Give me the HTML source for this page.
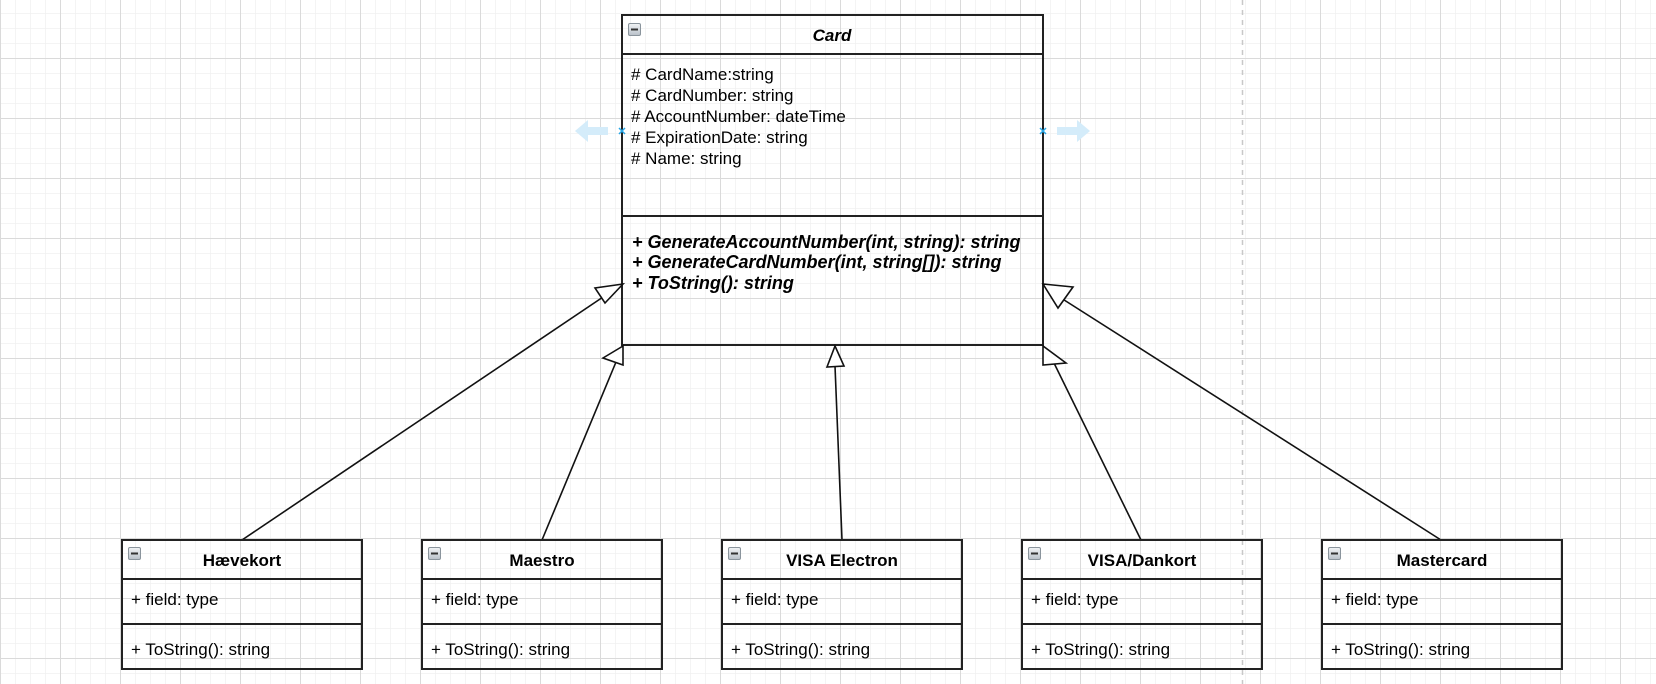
<!DOCTYPE html>
<html><head><meta charset="utf-8"><style>
html,body{margin:0;padding:0;width:1656px;height:684px;overflow:hidden;background:#fff}
svg{display:block}
text{font-family:"Liberation Sans",sans-serif;fill:#000}
</style></head><body>
<svg width="1656" height="684" xmlns="http://www.w3.org/2000/svg">
<defs>
<pattern id="minor" width="15" height="15" patternUnits="userSpaceOnUse" x="0" y="-2">
<path d="M0 0H15M0 0V15" stroke="#f0f0f0" stroke-width="1.5" fill="none"/>
</pattern>
<pattern id="major" width="60" height="60" patternUnits="userSpaceOnUse" x="0" y="-2">
<path d="M0 0.5H60M0.5 0V60" stroke="#dadada" stroke-width="1" fill="none"/>
</pattern>
<linearGradient id="ig" x1="0" y1="0" x2="0" y2="1"><stop offset="0" stop-color="#f2f4f6"/><stop offset="1" stop-color="#b8c0c8"/></linearGradient>
<g id="minus"><rect x="0.5" y="0.5" width="12" height="12" rx="1.5" fill="url(#ig)" stroke="#8a949c"/><rect x="3" y="5.5" width="7" height="2" fill="#333"/></g>
</defs>
<rect width="1656" height="684" fill="url(#minor)"/>
<rect width="1656" height="684" fill="url(#major)"/>
<line x1="1242.5" y1="0" x2="1242.5" y2="684" stroke="#c8c8c8" stroke-width="1.5" stroke-dasharray="5,5"/>

<g stroke="#222" stroke-width="2" fill="none">
<rect x="622" y="15" width="421" height="330"/>
<line x1="622" y1="54" x2="1043" y2="54"/>
<line x1="622" y1="216" x2="1043" y2="216"/>
</g>
<use href="#minus" x="628" y="23"/>
<text x="832" y="41" font-size="17" font-weight="bold" font-style="italic" text-anchor="middle">Card</text>
<g font-size="17">
<text x="631" y="80"># CardName:string</text>
<text x="631" y="101"># CardNumber: string</text>
<text x="631" y="122"># AccountNumber: dateTime</text>
<text x="631" y="143"># ExpirationDate: string</text>
<text x="631" y="164"># Name: string</text>
</g>
<g font-size="18" font-weight="bold" font-style="italic">
<text x="632" y="248">+ GenerateAccountNumber(int, string): string</text>
<text x="632" y="268">+ GenerateCardNumber(int, string[]): string</text>
<text x="632" y="289">+ ToString(): string</text>
</g>

<g fill="#d4ecfa">
<path d="M575 131 L588 120 L588 127 L608 127 L608 135 L588 135 L588 142 Z"/>
<path d="M1090 131 L1077 120 L1077 127 L1057 127 L1057 135 L1077 135 L1077 142 Z"/>
</g>
<g stroke="#29a8e8" stroke-width="1.5">
<path d="M619 128 L625 134 M625 128 L619 134"/>
<path d="M1040 128 L1046 134 M1046 128 L1040 134"/>
</g>

<g stroke="#111" stroke-width="1.6" fill="#fff">
<line x1="242" y1="540" x2="609" y2="293"/>
<path d="M623 284 L595 288 L605 303 Z"/>
<line x1="542" y1="540" x2="616" y2="362"/>
<path d="M623 346 L603 358 L623 365 Z"/>
<line x1="842" y1="540" x2="835" y2="366"/>
<path d="M835 346 L827 367 L844 366 Z"/>
<line x1="1141" y1="540" x2="1053" y2="361"/>
<path d="M1043 346 L1043 365 L1066 363 Z"/>
<line x1="1441" y1="540" x2="1061" y2="298"/>
<path d="M1043 284 L1073 287 L1058 308 Z"/>
</g>

<g stroke="#222" stroke-width="2" fill="none">
<rect x="122" y="540" width="240" height="129"/><line x1="122" y1="579" x2="362" y2="579"/><line x1="122" y1="624" x2="362" y2="624"/>
<rect x="422" y="540" width="240" height="129"/><line x1="422" y1="579" x2="662" y2="579"/><line x1="422" y1="624" x2="662" y2="624"/>
<rect x="722" y="540" width="240" height="129"/><line x1="722" y1="579" x2="962" y2="579"/><line x1="722" y1="624" x2="962" y2="624"/>
<rect x="1022" y="540" width="240" height="129"/><line x1="1022" y1="579" x2="1262" y2="579"/><line x1="1022" y1="624" x2="1262" y2="624"/>
<rect x="1322" y="540" width="240" height="129"/><line x1="1322" y1="579" x2="1562" y2="579"/><line x1="1322" y1="624" x2="1562" y2="624"/>
</g>
<use href="#minus" x="128" y="547"/><use href="#minus" x="428" y="547"/><use href="#minus" x="728" y="547"/><use href="#minus" x="1028" y="547"/><use href="#minus" x="1328" y="547"/>
<g font-size="17" font-weight="bold" text-anchor="middle">
<text x="242" y="566">Hævekort</text>
<text x="542" y="566">Maestro</text>
<text x="842" y="566">VISA Electron</text>
<text x="1142" y="566">VISA/Dankort</text>
<text x="1442" y="566">Mastercard</text>
</g>
<g font-size="17">
<text x="131" y="605">+ field: type</text><text x="131" y="655">+ ToString(): string</text>
<text x="431" y="605">+ field: type</text><text x="431" y="655">+ ToString(): string</text>
<text x="731" y="605">+ field: type</text><text x="731" y="655">+ ToString(): string</text>
<text x="1031" y="605">+ field: type</text><text x="1031" y="655">+ ToString(): string</text>
<text x="1331" y="605">+ field: type</text><text x="1331" y="655">+ ToString(): string</text>
</g>
</svg>
</body></html>
